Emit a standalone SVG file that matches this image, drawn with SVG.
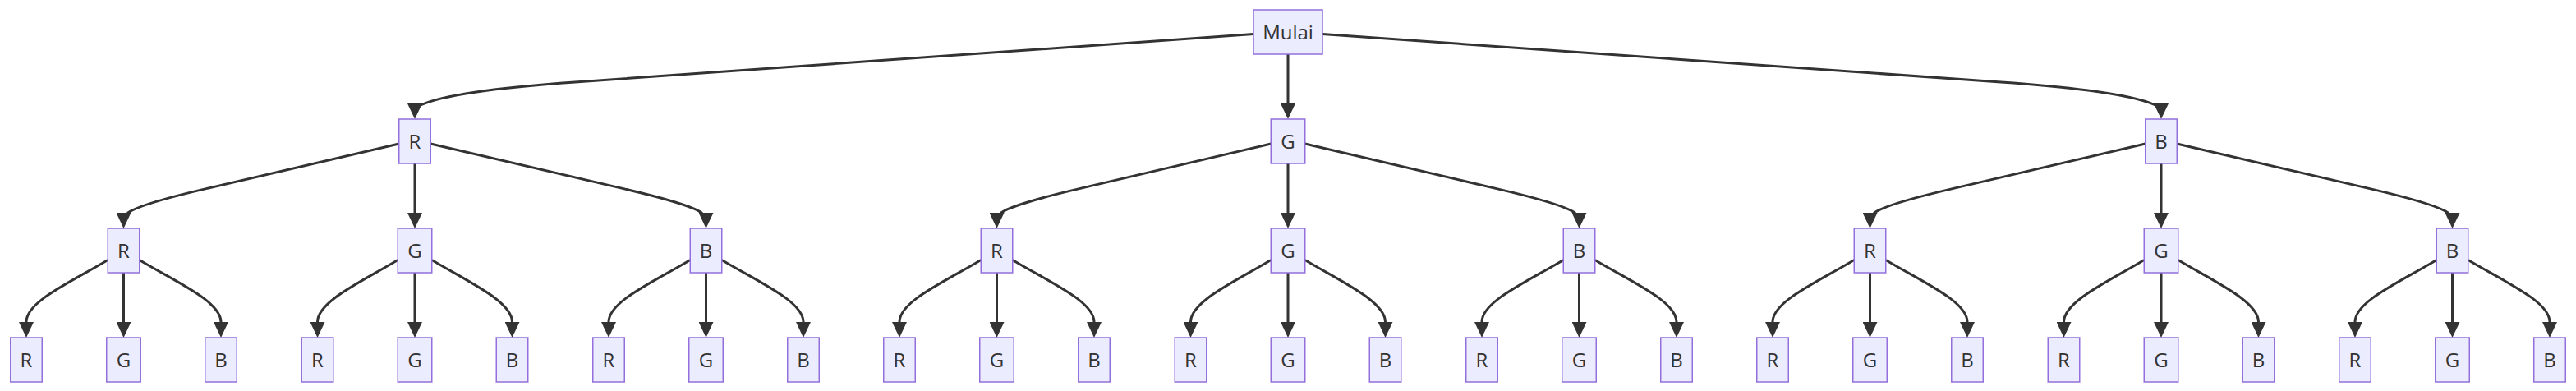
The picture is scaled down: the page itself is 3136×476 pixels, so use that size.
<svg xmlns="http://www.w3.org/2000/svg" width="3136" height="476" viewBox="0 0 3136 476">
<style>
.node rect{fill:#ECECFF;stroke:#9370DB;stroke-width:1.5}
.node text{font-family:"Open Sans","DejaVu Sans",sans-serif;font-size:24px;fill:#333;text-anchor:middle}
.edge path{fill:none;stroke:#333;stroke-width:3;marker-end:url(#arr)}
.r rect{x:-19.25px;y:-27px;width:38.5px;height:54px}
.w rect{x:-20.75px;y:-27px;width:41.5px;height:54px}
</style>
<defs>
<marker id="arr" markerUnits="userSpaceOnUse" markerWidth="19" markerHeight="18" viewBox="0 0 19 18" refX="10" refY="9" orient="auto"><path d="M0,0 L19,9 L0,18 Z" fill="#333"/></marker>
</defs>
<rect width="3136" height="476" fill="#fff"/>
<g id="edges" class="edge">
<path d="M1526,41.5 L700,100 c-60,4.2 -155,13 -188,28 m-7,-2 l0,10"/>
<path d="M1568,66 L1568,136"/>
<path d="M1610,41.5 L2436,100 c60,4.2 155,13 188,28 m7,-2 l0,10"/>
<path d="M485.75,175 l-235.75,54.9 c-45,10.5 -85,22 -95,29.6 m-4.5,-0.5 l0,10"/>
<path d="M505,199 L505,269"/>
<path d="M524.25,175 l235.75,54.9 c45,10.5 85,22 95,29.6 m4.5,-0.5 l0,10"/>
<path d="M1547.25,175 l-234.25,54.9 c-45,10.5 -85,22 -95,29.6 m-4.5,-0.5 l0,10"/>
<path d="M1568,199 L1568,269"/>
<path d="M1588.75,175 l234.25,54.9 c45,10.5 85,22 95,29.6 m4.5,-0.5 l0,10"/>
<path d="M2611.75,175 l-235.75,54.9 c-45,10.5 -85,22 -95,29.6 m-4.5,-0.5 l0,10"/>
<path d="M2631,199 L2631,269"/>
<path d="M2650.25,175 l235.75,54.9 c45,10.5 85,22 95,29.6 m4.5,-0.5 l0,10"/>
<path d="M131.25,316.5 c-45,27 -99.25,50.5 -99.25,75.5 l0,10"/>
<path d="M150.5,332 L150.5,402"/>
<path d="M169.75,316.5 c45,27 99.25,50.5 99.25,75.5 l0,10"/>
<path d="M484.25,316.5 c-45,27 -97.75,50.5 -97.75,75.5 l0,10"/>
<path d="M505,332 L505,402"/>
<path d="M525.75,316.5 c45,27 97.75,50.5 97.75,75.5 l0,10"/>
<path d="M840.25,316.5 c-45,27 -99.25,50.5 -99.25,75.5 l0,10"/>
<path d="M859.5,332 L859.5,402"/>
<path d="M878.75,316.5 c45,27 99.25,50.5 99.25,75.5 l0,10"/>
<path d="M1194.25,316.5 c-45,27 -99.25,50.5 -99.25,75.5 l0,10"/>
<path d="M1213.5,332 L1213.5,402"/>
<path d="M1232.75,316.5 c45,27 99.25,50.5 99.25,75.5 l0,10"/>
<path d="M1547.25,316.5 c-45,27 -97.75,50.5 -97.75,75.5 l0,10"/>
<path d="M1568,332 L1568,402"/>
<path d="M1588.75,316.5 c45,27 97.75,50.5 97.75,75.5 l0,10"/>
<path d="M1903.25,316.5 c-45,27 -99.25,50.5 -99.25,75.5 l0,10"/>
<path d="M1922.5,332 L1922.5,402"/>
<path d="M1941.75,316.5 c45,27 99.25,50.5 99.25,75.5 l0,10"/>
<path d="M2257.25,316.5 c-45,27 -99.25,50.5 -99.25,75.5 l0,10"/>
<path d="M2276.5,332 L2276.5,402"/>
<path d="M2295.75,316.5 c45,27 99.25,50.5 99.25,75.5 l0,10"/>
<path d="M2610.25,316.5 c-45,27 -97.75,50.5 -97.75,75.5 l0,10"/>
<path d="M2631,332 L2631,402"/>
<path d="M2651.75,316.5 c45,27 97.75,50.5 97.75,75.5 l0,10"/>
<path d="M2966.25,316.5 c-45,27 -99.25,50.5 -99.25,75.5 l0,10"/>
<path d="M2985.5,332 L2985.5,402"/>
<path d="M3004.75,316.5 c45,27 99.25,50.5 99.25,75.5 l0,10"/>
</g>
<g id="n-Mulai" class="node" transform="translate(1568,39)"><rect x="-42" y="-27" width="84" height="54"/><text y="8.5">Mulai</text></g>
<g id="n-R" class="node" transform="translate(505,172)"><rect x="-19.25" y="-27" width="38.5" height="54"/><text y="8.5">R</text></g>
<g id="n-G" class="node" transform="translate(1568,172)"><rect x="-20.75" y="-27" width="41.5" height="54"/><text y="8.5">G</text></g>
<g id="n-B" class="node" transform="translate(2631,172)"><rect x="-19.25" y="-27" width="38.5" height="54"/><text y="8.5">B</text></g>
<g id="n-RR" class="node" transform="translate(150.5,305)"><rect x="-19.25" y="-27" width="38.5" height="54"/><text y="8.5">R</text></g>
<g id="n-RG" class="node" transform="translate(505,305)"><rect x="-20.75" y="-27" width="41.5" height="54"/><text y="8.5">G</text></g>
<g id="n-RB" class="node" transform="translate(859.5,305)"><rect x="-19.25" y="-27" width="38.5" height="54"/><text y="8.5">B</text></g>
<g id="n-GR" class="node" transform="translate(1213.5,305)"><rect x="-19.25" y="-27" width="38.5" height="54"/><text y="8.5">R</text></g>
<g id="n-GG" class="node" transform="translate(1568,305)"><rect x="-20.75" y="-27" width="41.5" height="54"/><text y="8.5">G</text></g>
<g id="n-GB" class="node" transform="translate(1922.5,305)"><rect x="-19.25" y="-27" width="38.5" height="54"/><text y="8.5">B</text></g>
<g id="n-BR" class="node" transform="translate(2276.5,305)"><rect x="-19.25" y="-27" width="38.5" height="54"/><text y="8.5">R</text></g>
<g id="n-BG" class="node" transform="translate(2631,305)"><rect x="-20.75" y="-27" width="41.5" height="54"/><text y="8.5">G</text></g>
<g id="n-BB" class="node" transform="translate(2985.5,305)"><rect x="-19.25" y="-27" width="38.5" height="54"/><text y="8.5">B</text></g>
<g id="n-RRR" class="node" transform="translate(32,438)"><rect x="-19.25" y="-27" width="38.5" height="54"/><text y="8.5">R</text></g>
<g id="n-RRG" class="node" transform="translate(150.5,438)"><rect x="-20.75" y="-27" width="41.5" height="54"/><text y="8.5">G</text></g>
<g id="n-RRB" class="node" transform="translate(269,438)"><rect x="-19.25" y="-27" width="38.5" height="54"/><text y="8.5">B</text></g>
<g id="n-RGR" class="node" transform="translate(386.5,438)"><rect x="-19.25" y="-27" width="38.5" height="54"/><text y="8.5">R</text></g>
<g id="n-RGG" class="node" transform="translate(505,438)"><rect x="-20.75" y="-27" width="41.5" height="54"/><text y="8.5">G</text></g>
<g id="n-RGB" class="node" transform="translate(623.5,438)"><rect x="-19.25" y="-27" width="38.5" height="54"/><text y="8.5">B</text></g>
<g id="n-RBR" class="node" transform="translate(741,438)"><rect x="-19.25" y="-27" width="38.5" height="54"/><text y="8.5">R</text></g>
<g id="n-RBG" class="node" transform="translate(859.5,438)"><rect x="-20.75" y="-27" width="41.5" height="54"/><text y="8.5">G</text></g>
<g id="n-RBB" class="node" transform="translate(978,438)"><rect x="-19.25" y="-27" width="38.5" height="54"/><text y="8.5">B</text></g>
<g id="n-GRR" class="node" transform="translate(1095,438)"><rect x="-19.25" y="-27" width="38.5" height="54"/><text y="8.5">R</text></g>
<g id="n-GRG" class="node" transform="translate(1213.5,438)"><rect x="-20.75" y="-27" width="41.5" height="54"/><text y="8.5">G</text></g>
<g id="n-GRB" class="node" transform="translate(1332,438)"><rect x="-19.25" y="-27" width="38.5" height="54"/><text y="8.5">B</text></g>
<g id="n-GGR" class="node" transform="translate(1449.5,438)"><rect x="-19.25" y="-27" width="38.5" height="54"/><text y="8.5">R</text></g>
<g id="n-GGG" class="node" transform="translate(1568,438)"><rect x="-20.75" y="-27" width="41.5" height="54"/><text y="8.5">G</text></g>
<g id="n-GGB" class="node" transform="translate(1686.5,438)"><rect x="-19.25" y="-27" width="38.5" height="54"/><text y="8.5">B</text></g>
<g id="n-GBR" class="node" transform="translate(1804,438)"><rect x="-19.25" y="-27" width="38.5" height="54"/><text y="8.5">R</text></g>
<g id="n-GBG" class="node" transform="translate(1922.5,438)"><rect x="-20.75" y="-27" width="41.5" height="54"/><text y="8.5">G</text></g>
<g id="n-GBB" class="node" transform="translate(2041,438)"><rect x="-19.25" y="-27" width="38.5" height="54"/><text y="8.5">B</text></g>
<g id="n-BRR" class="node" transform="translate(2158,438)"><rect x="-19.25" y="-27" width="38.5" height="54"/><text y="8.5">R</text></g>
<g id="n-BRG" class="node" transform="translate(2276.5,438)"><rect x="-20.75" y="-27" width="41.5" height="54"/><text y="8.5">G</text></g>
<g id="n-BRB" class="node" transform="translate(2395,438)"><rect x="-19.25" y="-27" width="38.5" height="54"/><text y="8.5">B</text></g>
<g id="n-BGR" class="node" transform="translate(2512.5,438)"><rect x="-19.25" y="-27" width="38.5" height="54"/><text y="8.5">R</text></g>
<g id="n-BGG" class="node" transform="translate(2631,438)"><rect x="-20.75" y="-27" width="41.5" height="54"/><text y="8.5">G</text></g>
<g id="n-BGB" class="node" transform="translate(2749.5,438)"><rect x="-19.25" y="-27" width="38.5" height="54"/><text y="8.5">B</text></g>
<g id="n-BBR" class="node" transform="translate(2867,438)"><rect x="-19.25" y="-27" width="38.5" height="54"/><text y="8.5">R</text></g>
<g id="n-BBG" class="node" transform="translate(2985.5,438)"><rect x="-20.75" y="-27" width="41.5" height="54"/><text y="8.5">G</text></g>
<g id="n-BBB" class="node" transform="translate(3104,438)"><rect x="-19.25" y="-27" width="38.5" height="54"/><text y="8.5">B</text></g>
</svg>
